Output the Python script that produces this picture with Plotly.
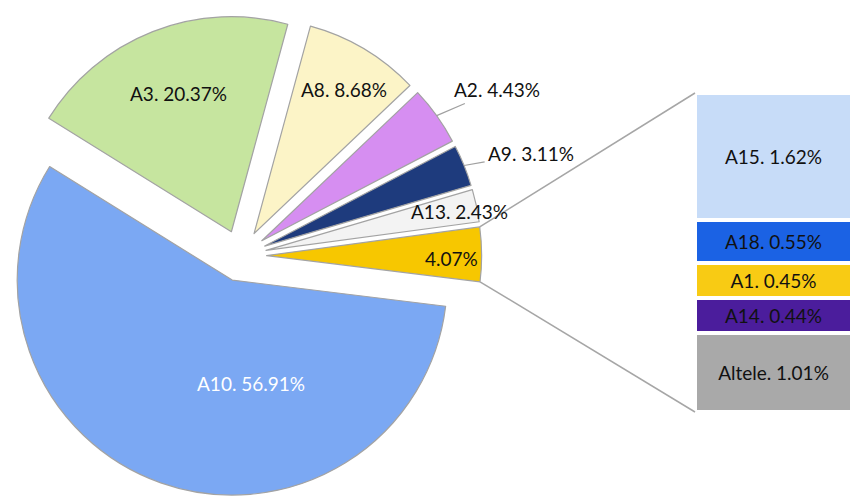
import math
import plotly.graph_objects as go

# Main pie categories (percent of total)
pie_names = ["A10", "A3", "A8", "A2", "A9", "A13"]
pie_values = [56.91, 20.37, 8.68, 4.43, 3.11, 2.43]

# Breakdown of the grouped slice shown in the side bar (top to bottom)
bar_names = ["A15", "A18", "A1", "A14", "Altele"]
bar_values = [1.62, 0.55, 0.45, 0.44, 1.01]

pie_colors = ["#7ba8f3", "#c6e59f", "#fcf4c7", "#d68ef1", "#1e3b7d", "#f3f3f3", "#f7c700"]
bar_colors = ["#c7dcf8", "#1b62e4", "#f8cb14", "#4b1d9c", "#a9a9a9"]

W, H = 852, 499
FONT = "Lato"
FS = 19

# pie geometry
PULL = 0.12
ROT = 97
PIE_X = [0.0, 0.5653]
PIE_Y = [0.0, 0.975]
BAR_X = [695 / W, 1.0]
BAR_Y = [1 - 412 / H, 1 - 93 / H]

other_total = round(sum(bar_values), 2)
slice_names = pie_names + ["Other"]
slice_values = pie_values + [other_total]
total = sum(slice_values)

cx = W * (PIE_X[0] + PIE_X[1]) / 2
cy = H * (1 - PIE_Y[0]) - H * (PIE_Y[1] - PIE_Y[0]) / 2
r = min(W * (PIE_X[1] - PIE_X[0]) / 2, H * (PIE_Y[1] - PIE_Y[0]) / 2) / (1 + PULL)

# slice angles (math degrees), drawn clockwise from the rotation
start = 90 - ROT
geom = {}
cum = 0.0
for n, v in zip(slice_names, slice_values):
    a0 = start - cum / total * 360
    a1 = a0 - v / total * 360
    mid = (a0 + a1) / 2
    pcx = cx + PULL * r * math.cos(math.radians(mid))
    pcy = cy - PULL * r * math.sin(math.radians(mid))
    geom[n] = dict(a0=a0, a1=a1, mid=mid, cx=pcx, cy=pcy)
    cum += v


def polar(n, ang, frac):
    g = geom[n]
    return (g["cx"] + frac * r * math.cos(math.radians(ang)),
            g["cy"] - frac * r * math.sin(math.radians(ang)))


def paper(px, py):
    return px / W, 1 - py / H


fig = go.Figure()

fig.add_trace(go.Pie(
    values=slice_values, labels=slice_names, sort=False,
    direction="clockwise", rotation=ROT, pull=PULL,
    textinfo="none", hoverinfo="label+value",
    marker=dict(colors=pie_colors, line=dict(color="#a3a3a3", width=1.2)),
    domain=dict(x=PIE_X, y=PIE_Y), showlegend=False,
))

# stacked bar, built bottom-up
for n, v, c in reversed(list(zip(bar_names, bar_values, bar_colors))):
    fig.add_trace(go.Bar(
        x=[0], y=[v], width=1, marker=dict(color=c, line=dict(color="white", width=4)),
        text=[f"{n}. {v:.2f}%"], textposition="inside", insidetextanchor="middle",
        textangle=0, textfont=dict(family=FONT, size=FS, color="#111111"),
        showlegend=False, hoverinfo="text",
    ))

annotations = []
# labels placed inside or next to their slices: (angle, radius fraction)
inside_place = {
    "A10": (-80, 0.49),
    "A3": (111, 0.69),
    "A8": (58, 0.79),
    "A13": (11.4, 0.92),
    "Other": (-0.8, 0.86),
}
for n, v in zip(slice_names, slice_values):
    if n not in inside_place:
        continue
    px, py = polar(n, *inside_place[n])
    x, y = paper(px, py)
    txt = f"{v:.2f}%" if n == "Other" else f"{n}. {v:.2f}%"
    annotations.append(dict(
        x=x, y=y, xref="paper", yref="paper", text=txt, showarrow=False,
        xanchor="center", yanchor="middle",
        font=dict(family=FONT, size=FS, color="white" if n == "A10" else "#111111"),
    ))

# labels with leader lines: pixel offset of the text from the slice edge
leader_place = {"A2": (60, -26), "A9": (67, -12)}
for n, v in zip(slice_names, slice_values):
    if n not in leader_place:
        continue
    px, py = polar(n, geom[n]["mid"], 1.0)
    x, y = paper(px, py)
    ax, ay = leader_place[n]
    annotations.append(dict(
        x=x, y=y, xref="paper", yref="paper", text=f"{n}. {v:.2f}%",
        showarrow=True, arrowhead=0, arrowwidth=1.2, arrowcolor="#a0a0a0",
        ax=ax, ay=ay, standoff=0, startstandoff=2,
        font=dict(family=FONT, size=FS, color="#111111"),
    ))

# connector lines from the grouped slice to the bar
g = geom["Other"]
tx, ty = polar("Other", g["a0"], 1.0)
bx, by = polar("Other", g["a1"], 1.0)
shapes = []
for (px, py), yb in (((tx, ty), BAR_Y[1]), ((bx, by), BAR_Y[0])):
    x0, y0 = paper(px, py)
    shapes.append(dict(type="line", xref="paper", yref="paper",
                       x0=x0, y0=y0, x1=BAR_X[0], y1=yb,
                       line=dict(color="#a6a6a6", width=1.5)))

fig.update_layout(
    width=W, height=H, margin=dict(l=0, r=0, t=0, b=0),
    paper_bgcolor="white", plot_bgcolor="white",
    barmode="stack", bargap=0,
    xaxis=dict(domain=BAR_X, range=[-0.5, 0.5], visible=False, fixedrange=True),
    yaxis=dict(domain=BAR_Y, range=[0, other_total], visible=False, fixedrange=True),
    font=dict(family=FONT, size=FS),
    annotations=annotations, shapes=shapes,
)

fig.write_html("out.html")
